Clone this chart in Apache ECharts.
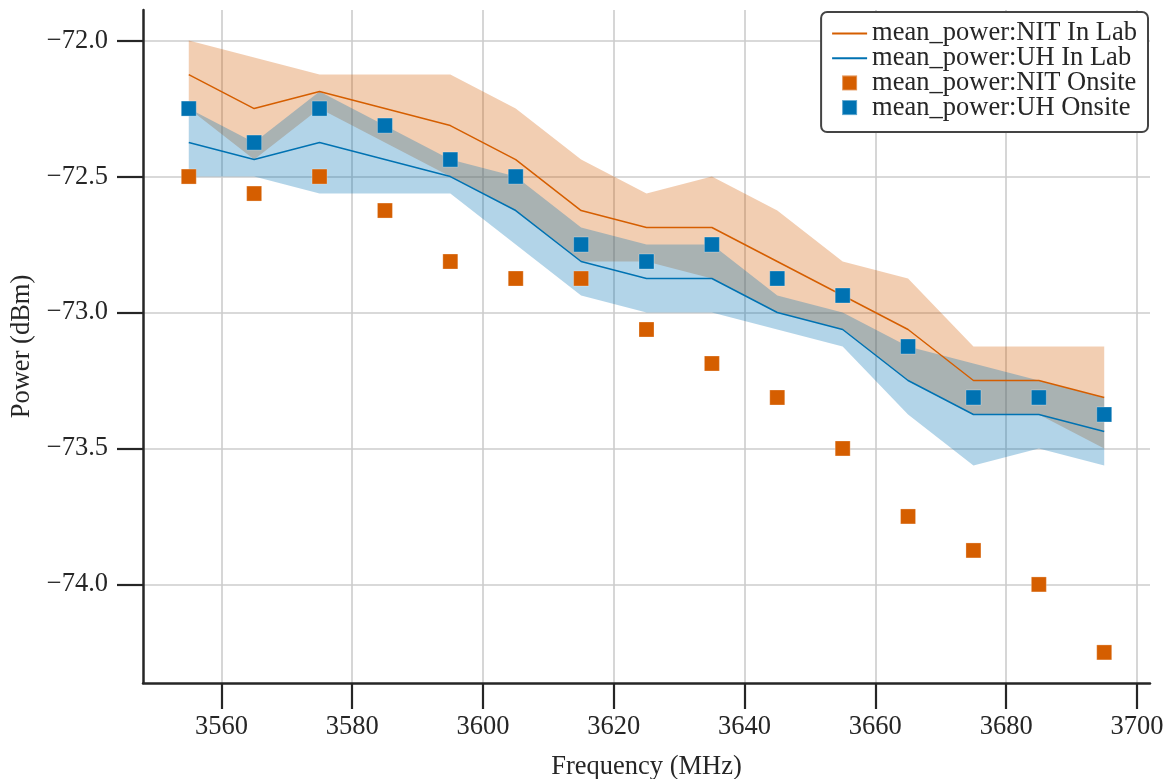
<!DOCTYPE html>
<html>
<head>
<meta charset="utf-8">
<script src="https://cdn.jsdelivr.net/npm/echarts@6/dist/echarts.min.js"></script>
<style>
html,body{margin:0;padding:0;background:#fff;}
#chart{width:1168px;height:779px;}
</style>
</head>
<body>
<div id="chart"></div>
<script>
// ---- data ----
const freqs = [3555, 3565, 3575, 3585, 3595, 3605, 3615, 3625, 3635, 3645, 3655, 3665, 3675, 3685, 3695];

const nitLab   = [-72.125, -72.25, -72.1875, -72.25, -72.3125, -72.4375, -72.625, -72.6875, -72.6875, -72.8125, -72.9375, -73.0625, -73.25, -73.25, -73.3125];
const nitLabHi = [-72.0, -72.0625, -72.125, -72.125, -72.125, -72.25, -72.4375, -72.5625, -72.5, -72.625, -72.8125, -72.875, -73.125, -73.125, -73.125];
const nitLabLo = [-72.25, -72.4375, -72.25, -72.375, -72.5, -72.625, -72.8125, -72.8125, -72.875, -73.0, -73.0625, -73.25, -73.375, -73.375, -73.5];

const uhLab   = [-72.375, -72.4375, -72.375, -72.4375, -72.5, -72.625, -72.8125, -72.875, -72.875, -73.0, -73.0625, -73.25, -73.375, -73.375, -73.4375];
const uhLabHi = [-72.25, -72.375, -72.1875, -72.3125, -72.4375, -72.5, -72.6875, -72.75, -72.75, -72.9375, -73.0, -73.125, -73.1875, -73.25, -73.3125];
const uhLabLo = [-72.5, -72.5, -72.5625, -72.5625, -72.5625, -72.75, -72.9375, -73.0, -73.0, -73.0625, -73.125, -73.375, -73.5625, -73.5, -73.5625];

const nitOnsite = [-72.5, -72.5625, -72.5, -72.625, -72.8125, -72.875, -72.875, -73.0625, -73.1875, -73.3125, -73.5, -73.75, -73.875, -74.0, -74.25];
const uhOnsite  = [-72.25, -72.375, -72.25, -72.3125, -72.4375, -72.5, -72.75, -72.8125, -72.75, -72.875, -72.9375, -73.125, -73.3125, -73.3125, -73.375];

const xTicks = [3560, 3580, 3600, 3620, 3640, 3660, 3680, 3700];
const yTicks = [-74.0, -73.5, -73.0, -72.5, -72.0];

const names = ['mean_power:NIT In Lab', 'mean_power:UH In Lab', 'mean_power:NIT Onsite', 'mean_power:UH Onsite'];

// ---- styling ----
const ORANGE = '#d55e00';
const BLUE = '#0072b2';
const FONT = 'Liberation Serif';
const INK = '#262626';
const SQUARE = 'path://M0,0 L10,0 L10,10 L0,10 Z';

const pairs = (ys) => freqs.map((x, i) => [x, ys[i]]);

function band(lo, hi, fill) {
  return {
    type: 'custom', silent: true, z: 1, clip: true,
    coordinateSystem: 'cartesian2d',
    data: freqs.map((x, i) => [x, lo[i], hi[i]]),
    encode: { x: 0, y: [1, 2] },
    renderItem: function (params, api) {
      if (params.dataIndex !== 0) return null;
      const pts = [];
      for (let i = 0; i < freqs.length; i++) pts.push(api.coord([freqs[i], hi[i]]));
      for (let i = freqs.length - 1; i >= 0; i--) pts.push(api.coord([freqs[i], lo[i]]));
      return {
        type: 'polygon',
        shape: { points: pts },
        style: { fill: fill, stroke: null }
      };
    }
  };
}

const chart = echarts.init(document.getElementById('chart'), null, { renderer: 'canvas' });

const option = {
  animation: false,
  backgroundColor: '#ffffff',
  grid: { left: 143, right: 18, top: 10, bottom: 96, containLabel: false, outerBoundsMode: 'none' },
  xAxis: {
    type: 'value', min: 3548, max: 3702,
    name: 'Frequency (MHz)', nameLocation: 'middle', nameGap: 71,
    nameTextStyle: { fontFamily: FONT, fontSize: 26.5, color: INK },
    axisLine: { show: true, onZero: false, lineStyle: { color: INK, width: 2.5 } },
    axisTick: { show: true, length: 26, customValues: xTicks, lineStyle: { color: INK, width: 2.2 } },
    axisLabel: { customValues: xTicks, margin: 31, fontFamily: FONT, fontSize: 26.5, color: INK,
      formatter: v => String(v) },
    splitLine: { show: true, lineStyle: { color: '#cccccc', width: 1.6 } }
  },
  yAxis: {
    type: 'value', min: -74.3625, max: -71.8875,
    name: 'Power (dBm)', nameLocation: 'middle', nameGap: 102,
    nameTextStyle: { fontFamily: FONT, fontSize: 26.5, color: INK },
    axisLine: { show: true, onZero: false, lineStyle: { color: INK, width: 2.5 } },
    axisTick: { show: true, length: 26, customValues: yTicks, lineStyle: { color: INK, width: 2.2 } },
    axisLabel: { customValues: yTicks, margin: 35, fontFamily: FONT, fontSize: 26.5, color: INK,
      formatter: v => v.toFixed(1).replace('-', '\u2212') },
    splitLine: { show: true, lineStyle: { color: '#cccccc', width: 1.6 } }
  },
  legend: {
    orient: 'vertical', right: 20, top: 12,
    padding: [8, 11, 11, 10],
    backgroundColor: '#ffffff', borderColor: '#444444', borderWidth: 2, borderRadius: 6,
    itemWidth: 35, itemHeight: 15, itemGap: -2.3,
    symbolKeepAspect: true,
    textStyle: { fontFamily: FONT, fontSize: 26.5, color: INK },
    data: [
      { name: names[0], itemStyle: { color: 'rgba(0,0,0,0)', borderWidth: 0 } },
      { name: names[1], itemStyle: { color: 'rgba(0,0,0,0)', borderWidth: 0 } },
      { name: names[2], icon: SQUARE },
      { name: names[3], icon: SQUARE }
    ]
  },
  series: [
    band(nitLabLo, nitLabHi, 'rgba(213,94,0,0.3)'),
    band(uhLabLo, uhLabHi, 'rgba(0,114,178,0.3)'),
    {
      name: names[0], type: 'line', data: pairs(nitLab), symbol: 'none', showSymbol: false,
      lineStyle: { color: ORANGE, width: 1.5 }, itemStyle: { color: ORANGE }, z: 3
    },
    {
      name: names[1], type: 'line', data: pairs(uhLab), symbol: 'none', showSymbol: false,
      lineStyle: { color: BLUE, width: 1.5 }, itemStyle: { color: BLUE }, z: 3
    },
    {
      name: names[2], type: 'scatter', data: pairs(nitOnsite), symbol: 'rect', symbolSize: 15,
      itemStyle: { color: ORANGE, opacity: 1, borderColor: 'rgba(255,255,255,0.35)', borderWidth: 0.8 }, z: 4
    },
    {
      name: names[3], type: 'scatter', data: pairs(uhOnsite), symbol: 'rect', symbolSize: 15,
      itemStyle: { color: BLUE, opacity: 1, borderColor: 'rgba(255,255,255,0.35)', borderWidth: 0.8 }, z: 4
    }
  ]
};
chart.setOption(option);
</script>
</body>
</html>
